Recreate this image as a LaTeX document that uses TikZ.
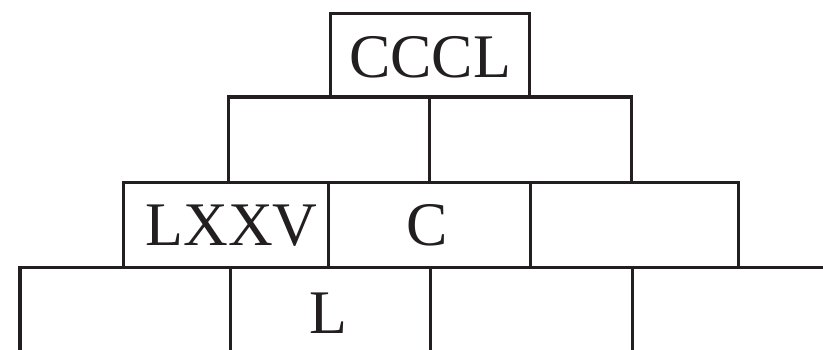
\documentclass[tikz,border=0pt]{standalone}
\usepackage{fontspec}
\setmainfont{Liberation Serif}
\definecolor{ink}{RGB}{35,31,32}
\begin{document}
\begin{tikzpicture}[x=1pt,y=-1pt,
  brick/.style={draw=ink, line width=3.4pt, line join=miter, rectangle, inner sep=0pt},
  lbl/.style={anchor=base, inner sep=0pt, font=\fontsize{62}{62}\selectfont, text=ink}]
\useasboundingbox (0,0) rectangle (823,350);
\clip (0,0) rectangle (823,350);
% row 4 (bottom, cut off)
\node[brick, minimum width=210.2pt, minimum height=100pt, anchor=north west] (d1) at (18.3,266) {};
\node[brick, minimum width=200.5pt, minimum height=100pt, anchor=north west] (d2) at (228.5,266) {};
\node[brick, minimum width=201.5pt, minimum height=100pt, anchor=north west] (d3) at (429,266) {};
\node[brick, minimum width=220pt, minimum height=100pt, anchor=north west] (d4) at (630.5,266) {};
% row 3
\node[brick, minimum width=205pt, minimum height=85pt, anchor=north west] (c1) at (122,181) {};
\node[brick, minimum width=202pt, minimum height=85pt, anchor=north west] (c2) at (327,181) {};
\node[brick, minimum width=208pt, minimum height=85pt, anchor=north west] (c3) at (529,181) {};
% row 2
\node[brick, minimum width=201.3pt, minimum height=85.5pt, anchor=north west] (b1) at (226.7,95.5) {};
\node[brick, minimum width=202pt, minimum height=85.5pt, anchor=north west] (b2) at (428,95.5) {};
% row 1
\node[brick, minimum width=199.5pt, minimum height=83.8pt, anchor=north west] (a1) at (328.5,11.7) {};
% labels
\node[lbl] (ta1) at (430,77.8) {CCCL};
\node[lbl] (tc1) at (231.5,245.5) {LXXV};
\node[lbl] (tc2) at (427,245.5) {C};
\node[lbl] (td2) at (328.5,333) {L};
\end{tikzpicture}
\end{document}
